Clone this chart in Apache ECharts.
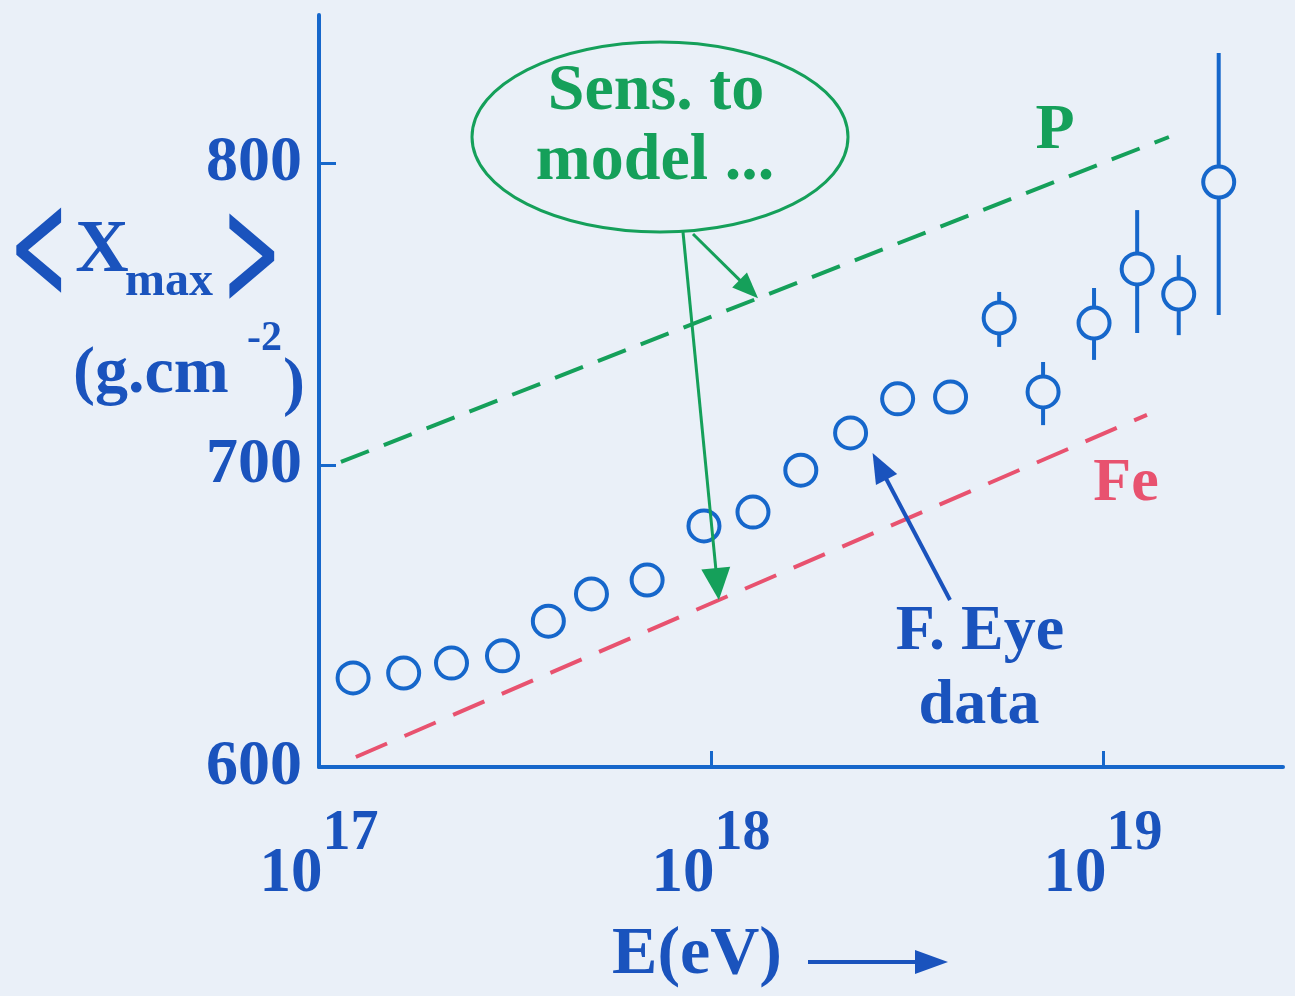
<!DOCTYPE html>
<html>
<head>
<meta charset="utf-8">
<script src="https://cdn.jsdelivr.net/npm/echarts@6/dist/echarts.min.js"></script>
<style>
  html, body { margin: 0; padding: 0; background: #eaf0f8; }
  #chart { width: 1295px; height: 996px; }
</style>
</head>
<body>
<div id="chart"></div>
<script>
// Mean depth of shower maximum vs. energy (fluorescence-eye measurements)
// Energies are stored as log10(E / eV).
const logEnergy = [17.087, 17.216, 17.338, 17.468, 17.585, 17.695, 17.837, 17.982, 18.107, 18.229,
                   18.356, 18.476, 18.611, 18.735, 18.847, 18.977, 19.087, 19.193, 19.295];
const xmaxMean  = [629.5, 631.1, 634.4, 636.8, 648.3, 657.3, 661.9, 679.8, 684.4, 698.3,
                   710.6, 721.9, 722.5, 748.7, 724.2, 747.0, 764.9, 756.6, 793.7];
// Error bar ends; null where the bar is smaller than the marker
const errLow  = [null, null, null, null, null, null, null, null, null, null,
                 null, null, null, 739.1, 713.2, 734.8, 743.7, 743.0, 749.7];
const errHigh = [null, null, null, null, null, null, null, null, null, null,
                 null, null, null, 757.3, 734.1, 758.6, 784.4, 769.5, 836.4];

// Model predictions for proton and iron primaries
const protonLogE = [17.056, 19.168];
const protonXmax = [701.0, 808.6];
const ironLogE   = [17.094, 19.112];
const ironXmax   = [603.3, 716.6];

// Axis ticks
const xDecades = [17, 18, 19];
const yTicks   = [600, 700, 800];

const SERIF = '"Liberation Serif", "Times New Roman", serif';
const AXIS_BLUE = '#1667cb';
const TEXT_BLUE = '#1a53bd';
const GREEN = '#15a05a';
const RED = '#e8526f';
const BG = '#eaf0f8';

const chart = echarts.init(document.getElementById('chart'));

function pairs(xs, ys) { return xs.map((x, i) => [x, ys[i]]); }

const errData = logEnergy
  .map((e, i) => (errLow[i] == null ? null : [e, errLow[i], errHigh[i]]))
  .filter(d => d !== null);

const option = {
  backgroundColor: BG,
  animation: false,
  grid: { left: 319, right: 12, top: 15, bottom: 229, containLabel: false, outerBoundsMode: 'none' },
  xAxis: {
    type: 'value', min: 17, max: 19.459, interval: 1,
    axisLine: { show: true, lineStyle: { color: AXIS_BLUE, width: 4 } },
    axisTick: { show: true, inside: true, length: 16, customValues: xDecades,
                lineStyle: { color: AXIS_BLUE, width: 3 } },
    splitLine: { show: false },
    axisLabel: {
      customValues: xDecades,
      margin: 60,
      // exponent on a short first line, shifted right past the base "10"
      formatter: v => '{s|' + Math.round(v) + '}\n{b|10}',
      rich: {
        s: { fontFamily: SERIF, fontWeight: 'bold', fontSize: 56, lineHeight: 16,
             color: TEXT_BLUE, padding: [0, 0, 0, 63] },
        b: { fontFamily: SERIF, fontWeight: 'bold', fontSize: 63, lineHeight: 63,
             color: TEXT_BLUE, padding: [0, 56, 0, 0] }
      }
    }
  },
  yAxis: {
    type: 'value', min: 600, max: 849, interval: 100,
    axisLine: { show: true, lineStyle: { color: AXIS_BLUE, width: 4 } },
    axisTick: { show: true, inside: true, length: 17, customValues: yTicks,
                lineStyle: { color: AXIS_BLUE, width: 3 } },
    splitLine: { show: false },
    axisLabel: {
      customValues: yTicks,
      margin: 17,
      fontFamily: SERIF, fontWeight: 'bold', fontSize: 64, color: TEXT_BLUE
    }
  },
  series: [
    {
      name: 'P', type: 'line', data: pairs(protonLogE, protonXmax),
      symbol: 'none', silent: true,
      lineStyle: { color: GREEN, width: 4, type: [30, 16] }, z: 1
    },
    {
      name: 'Fe', type: 'line', data: pairs(ironLogE, ironXmax),
      symbol: 'none', silent: true,
      lineStyle: { color: RED, width: 4, type: [34, 19] }, z: 1
    },
    {
      name: 'errors', type: 'custom', data: errData,
      encode: { x: 0, y: [1, 2] },
      renderItem: (params, api) => {
        const a = api.coord([api.value(0), api.value(1)]);
        const b = api.coord([api.value(0), api.value(2)]);
        return { type: 'line', shape: { x1: a[0], y1: a[1], x2: b[0], y2: b[1] },
                 style: { stroke: AXIS_BLUE, lineWidth: 4 } };
      },
      z: 2
    },
    {
      name: 'F. Eye data', type: 'scatter', data: pairs(logEnergy, xmaxMean),
      symbol: 'circle', symbolSize: 31,
      itemStyle: { color: BG, borderColor: AXIS_BLUE, borderWidth: 4, opacity: 1 },
      z: 3
    }
  ]
};
chart.setOption(option);

// Straight arrow with a filled triangular head
function arrow(from, to, color, width, headLen, headW) {
  const dx = to[0] - from[0], dy = to[1] - from[1];
  const L = Math.hypot(dx, dy);
  const ux = dx / L, uy = dy / L;
  const bx = to[0] - ux * headLen, by = to[1] - uy * headLen;
  const px = -uy * headW / 2, py = ux * headW / 2;
  return [
    { type: 'line', z: 10, shape: { x1: from[0], y1: from[1], x2: bx + ux * 2, y2: by + uy * 2 },
      style: { stroke: color, lineWidth: width } },
    { type: 'polygon', z: 10, shape: { points: [[to[0], to[1]], [bx + px, by + py], [bx - px, by - py]] },
      style: { fill: color } }
  ];
}

function onLine(xs, ys, x) {
  const t = (x - xs[0]) / (xs[1] - xs[0]);
  return ys[0] + t * (ys[1] - ys[0]);
}

function txt(text, x, y, size, color, align, extra, styleExtra) {
  return Object.assign({
    type: 'text', z: 10, x: x, y: y,
    style: Object.assign({ text: text, x: 0, y: 0, fill: color, font: 'bold ' + size + 'px ' + SERIF,
             align: align || 'center', verticalAlign: 'middle' }, styleExtra || {})
  }, extra || {});
}

const toPx = p => chart.convertToPixel({ gridIndex: 0 }, p);

// Arrow targets tied to the model lines and to a data point
const pTarget = toPx([18.12, onLine(protonLogE, protonXmax, 18.12)]);
const feTarget = toPx([18.02, onLine(ironLogE, ironXmax, 18.02)]);
const eyePoint = toPx([logEnergy[10], xmaxMean[10]]);
const eyeTarget = [eyePoint[0] + 22, eyePoint[1] + 20];

const bracketStroke = { stroke: TEXT_BLUE, lineWidth: 2 };

const graphics = [
  // y-axis title  <X_max>  (g.cm^-2)
  txt('<', 39, 262, 92, TEXT_BLUE, 'center', { scaleY: 1.72 }, bracketStroke),
  txt('X', 102, 252, 74, TEXT_BLUE, 'center'),
  txt('max', 125, 283, 48, TEXT_BLUE, 'left'),
  txt('>', 252, 268, 92, TEXT_BLUE, 'center', { scaleY: 1.72 }, bracketStroke),
  txt('(g.cm', 73, 375, 66, TEXT_BLUE, 'left'),
  txt('-2', 247, 339, 42, TEXT_BLUE, 'left'),
  txt(')', 283, 386, 66, TEXT_BLUE, 'left'),

  // x-axis title with arrow
  txt('E(eV)', 697, 955, 68, TEXT_BLUE, 'center'),
  ...arrow([808, 962], [948, 962], TEXT_BLUE, 4, 33, 24),

  // model line labels
  txt('P', 1055, 131, 64, GREEN, 'center'),
  txt('Fe', 1126, 484, 62, RED, 'center'),

  // data label
  txt('F. Eye', 980, 632, 64, TEXT_BLUE, 'center'),
  txt('data', 979, 706, 64, TEXT_BLUE, 'center'),
  ...arrow([950, 600], eyeTarget, TEXT_BLUE, 4, 30, 24),

  // callout bubble
  { type: 'ellipse', z: 10, shape: { cx: 660, cy: 137, rx: 188, ry: 95 },
    style: { fill: 'none', stroke: GREEN, lineWidth: 3 } },
  txt('Sens. to', 656, 92, 66, GREEN, 'center'),
  txt('model ...', 655, 162, 66, GREEN, 'center'),
  ...arrow([683, 232], feTarget, GREEN, 3, 32, 29),
  ...arrow([693, 234], pTarget, GREEN, 3, 26, 21)
];

chart.setOption({ graphic: graphics });
</script>
</body>
</html>
